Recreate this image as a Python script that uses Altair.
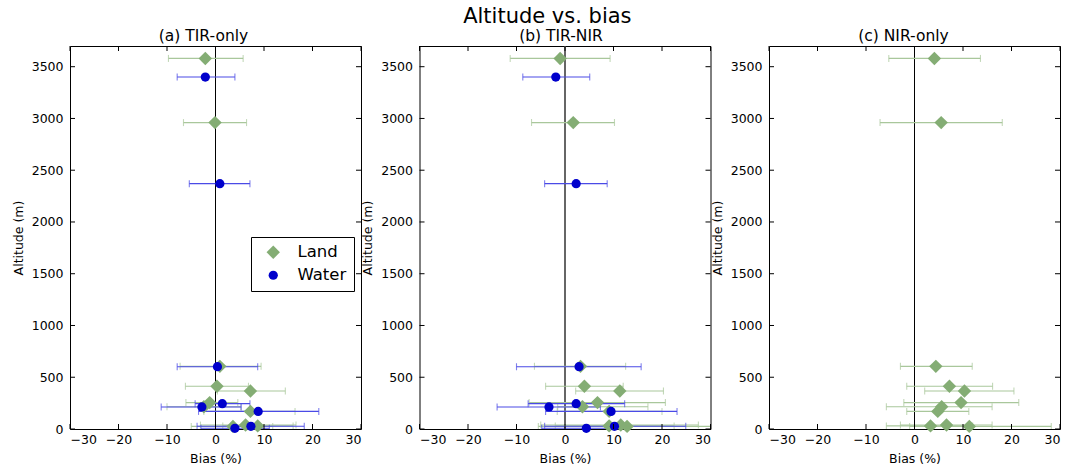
import altair as alt
import pandas as pd

# Station altitudes (m)
land_alt = [3580, 2960, 605, 413, 367, 255, 215, 170, 38, 30, 25]
water_alt = [3400, 2370, 602, 245, 213, 170, 26, 7]

# (a) TIR-only
a_land_bias = [-2.1, -0.1, 0.9, 0.3, 7.2, -1.2, -2.4, 7.2, 6.2, 8.7, 3.6]
a_land_lo = [-9.7, -6.6, -7.3, -6.2, 0.4, -6.1, -10.0, -2.4, -3.1, 1.5, -5.0]
a_land_hi = [5.7, 6.4, 9.4, 6.8, 14.4, 4.6, 5.2, 16.4, 16.6, 16.0, 11.8]
a_water_bias = [-2.1, 0.9, 0.4, 1.4, -2.8, 8.8, 7.3, 4.0]
a_water_lo = [-7.9, -5.4, -7.9, -4.2, -11.2, -3.5, -3.8, -3.0]
a_water_hi = [4.0, 7.1, 8.7, 7.1, 5.3, 21.3, 18.3, 11.1]

# (b) TIR-NIR
b_land_bias = [-1.0, 1.7, 3.2, 4.0, 11.3, 6.7, 3.6, 9.1, 11.5, 9.1, 12.8]
b_land_lo = [-11.3, -6.9, -6.3, -4.0, 2.2, -7.4, -1.5, -1.6, -5.0, -2.0, -5.5]
b_land_hi = [9.3, 10.2, 12.5, 12.0, 20.3, 20.7, 17.1, 20.0, 27.5, 22.5, 32.0]
b_water_bias = [-1.9, 2.3, 2.9, 2.3, -3.3, 9.5, 10.2, 4.4]
b_water_lo = [-8.7, -4.2, -10.0, -7.6, -14.0, -4.0, -4.2, -4.8]
b_water_hi = [5.1, 8.7, 15.7, 12.3, 7.3, 23.1, 24.9, 13.0]

# (c) NIR-only (land only)
c_land_bias = [4.1, 5.5, 4.4, 7.2, 10.3, 9.6, 5.6, 4.8, 6.6, 3.3, 11.3]
c_land_lo = [-5.3, -7.1, -2.9, -1.6, 2.1, -2.2, -5.8, -1.6, -2.9, -5.8, -1.0]
c_land_hi = [13.6, 18.1, 11.9, 16.1, 20.5, 21.5, 16.0, 11.2, 16.0, 12.0, 28.2]

x_ticks = [-30, -20, -10, 0, 10, 20, 30]
y_ticks = [0, 500, 1000, 1500, 2000, 2500, 3000, 3500]

W, H = 291, 383
LAND_COLOR = "#84ad74"
LAND_ERR = "#a9c79b"
WATER_COLOR = "#0000cc"
WATER_ERR = "#4a4ae6"

x_scale = alt.Scale(domain=[-30, 30], nice=False)
y_scale = alt.Scale(domain=[0, 3700], nice=False)


def frame(alt_list, bias, lo, hi, surface):
    return pd.DataFrame({"alt": alt_list, "bias": bias, "lo": lo, "hi": hi,
                         "surface": surface})


def panel(title, title_dx, land, water, zero_color, zero_width, show_legend):
    xax = alt.Axis(values=x_ticks, format="d", title="Bias (%)", ticks=False,
                   domain=False, grid=False, labelPadding=4, titlePadding=7)
    yax = alt.Axis(values=y_ticks, format="d", title="Altitude (m)", ticks=False,
                   domain=False, grid=False, labelPadding=7, titlePadding=6)

    layers = []
    zero = alt.Chart(pd.DataFrame({"z": [0]})).mark_rule(
        color=zero_color, strokeWidth=zero_width).encode(
        x=alt.X("z:Q", scale=x_scale, axis=xax))
    layers.append(zero)

    sets = [(land, LAND_ERR)]
    if water is not None:
        sets.append((water, WATER_ERR))

    for df, ecol in sets:
        base = alt.Chart(df)
        layers.append(base.mark_rule(color=ecol, strokeWidth=1.1, clip=True).encode(
            x=alt.X("lo:Q", scale=x_scale, axis=xax),
            x2="hi:Q",
            y=alt.Y("alt:Q", scale=y_scale, axis=yax)))
        for end in ["lo", "hi"]:
            layers.append(base.mark_tick(color=ecol, orient="vertical", size=7,
                                         thickness=1.1, clip=True).encode(
                x=alt.X(f"{end}:Q", scale=x_scale, axis=xax),
                y=alt.Y("alt:Q", scale=y_scale, axis=yax)))

    pts = pd.concat([land] + ([water] if water is not None else []))
    legend = alt.Legend(title=None) if show_legend else None
    layers.append(alt.Chart(pts).mark_point(filled=True, opacity=1, strokeWidth=0).encode(
        x=alt.X("bias:Q", scale=x_scale, axis=xax),
        y=alt.Y("alt:Q", scale=y_scale, axis=yax),
        color=alt.Color("surface:N", scale=alt.Scale(domain=["Land", "Water"],
                        range=[LAND_COLOR, WATER_COLOR]), legend=legend),
        shape=alt.Shape("surface:N", scale=alt.Scale(domain=["Land", "Water"],
                        range=["diamond", "circle"]), legend=legend),
        size=alt.Size("surface:N", scale=alt.Scale(domain=["Land", "Water"],
                      range=[180, 85]), legend=legend),
    ))

    # inward tick marks on all four sides
    xt = alt.Chart(pd.DataFrame({"t": x_ticks}))
    yt = alt.Chart(pd.DataFrame({"t": y_ticks}))
    layers.append(xt.mark_rule(color="black").encode(
        x=alt.X("t:Q", scale=x_scale, axis=xax), y=alt.value(0), y2=alt.value(5)))
    layers.append(xt.mark_rule(color="black").encode(
        x=alt.X("t:Q", scale=x_scale, axis=xax), y=alt.value(H - 5), y2=alt.value(H)))
    layers.append(yt.mark_rule(color="black").encode(
        y=alt.Y("t:Q", scale=y_scale, axis=yax), x=alt.value(0), x2=alt.value(5)))
    layers.append(yt.mark_rule(color="black").encode(
        y=alt.Y("t:Q", scale=y_scale, axis=yax), x=alt.value(W - 5), x2=alt.value(W)))

    return alt.layer(*layers).properties(
        width=W, height=H,
        title=alt.TitleParams(title, fontSize=15.5, fontWeight="normal",
                              font="DejaVu Sans", offset=1, dx=title_dx))


pa = panel("(a) TIR-only", -12,
           frame(land_alt, a_land_bias, a_land_lo, a_land_hi, "Land"),
           frame(water_alt, a_water_bias, a_water_lo, a_water_hi, "Water"),
           "black", 1, True)
pb = panel("(b) TIR-NIR", -4,
           frame(land_alt, b_land_bias, b_land_lo, b_land_hi, "Land"),
           frame(water_alt, b_water_bias, b_water_lo, b_water_hi, "Water"),
           "#666666", 2, False)
pc = panel("(c) NIR-only", -11,
           frame(land_alt, c_land_bias, c_land_lo, c_land_hi, "Land"),
           None, "black", 1, False)

chart = alt.hconcat(pa, pb, pc, spacing=58.5, bounds="flush").properties(
    title=alt.TitleParams("Altitude vs. bias", fontSize=21, fontWeight="normal",
                          font="DejaVu Sans", anchor="middle", dx=11, offset=1),
    padding={"left": 11, "top": 6, "right": 5, "bottom": 5},
).configure_view(
    stroke="black", strokeWidth=1
).configure_axis(
    labelFont="DejaVu Sans", titleFont="DejaVu Sans", labelFontSize=12.5,
    titleFontSize=12.5, titleFontWeight="normal", labelColor="black",
    titleColor="black"
).configure_legend(
    orient="none", legendX=181, legendY=191, strokeColor="black",
    fillColor="white", padding=7, rowPadding=6, labelFontSize=16.5,
    labelFont="DejaVu Sans", labelOffset=16, symbolOffset=7, cornerRadius=0,
    symbolStrokeWidth=0
)

chart.save("out.html", embed_options={"renderer": "svg", "actions": False})
